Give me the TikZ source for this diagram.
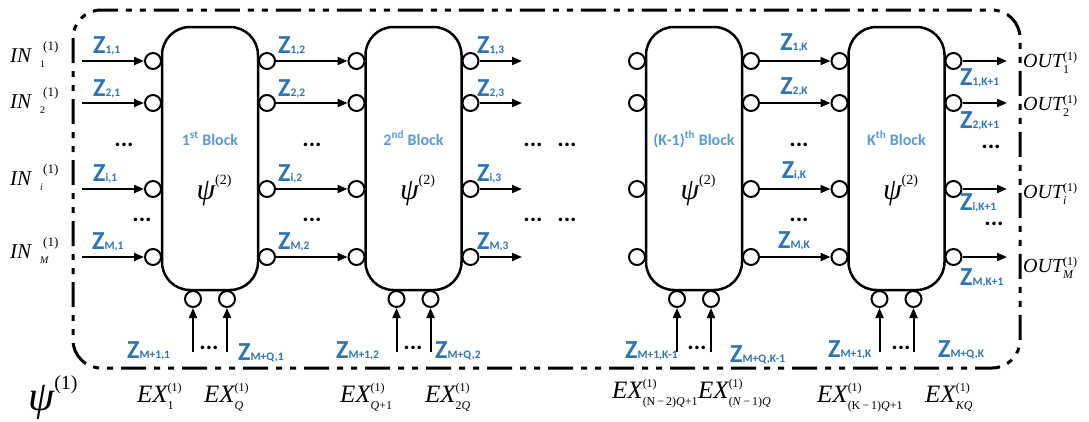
\documentclass[tikz,border=0pt]{standalone}
\usepackage{fontspec}
\usetikzlibrary{arrows.meta}
\newfontfamily\carl{Carlito}
\newfontfamily\tnr{Liberation Serif}
\definecolor{zblue}{HTML}{2E75B6}
\definecolor{lblue}{HTML}{5B9BD5}
\newcommand\zl[1]{{\carl\bfseries\fontsize{26}{26}\selectfont Z}{\carl\bfseries\fontsize{11.5}{11.5}\selectfont #1}}
\newcommand\inl[1]{{\tnr\fontsize{21}{21}\selectfont\itshape IN}\hspace{9pt}\rlap{\raisebox{-5pt}{\tnr\fontsize{10}{10}\selectfont #1}}\hspace{3pt}\raisebox{12pt}{\tnr\fontsize{13}{13}\selectfont (1)}}
\newcommand\outl[1]{{\tnr\fontsize{20}{20}\selectfont\itshape OUT}\rlap{\raisebox{-6pt}{\tnr\fontsize{12}{12}\selectfont #1}}\raisebox{7pt}{\tnr\fontsize{12}{12}\selectfont (1)}}
\newcommand\exl[1]{{\tnr\fontsize{25}{25}\selectfont\itshape EX}\rlap{\raisebox{-7pt}{\tnr\fontsize{12}{12}\selectfont #1}}\raisebox{11pt}{\tnr\fontsize{12}{12}\selectfont (1)}}
\newcommand\psitwo{{\tnr\itshape\fontsize{30}{30}\selectfont ψ}\raisebox{15pt}{\tnr\fontsize{14}{14}\selectfont (2)}}
\begin{document}
\begin{tikzpicture}[x=1pt,y=-1pt,
  blk/.style={draw,line width=2.5pt,rounded corners=28pt,minimum width=96pt,minimum height=263pt,inner sep=0pt,fill=white},
  port/.style={draw,circle,line width=2pt,minimum size=16pt,inner sep=0pt,fill=white},
  arr/.style={line width=2pt,-{Triangle[length=10pt,width=8pt]}},
  frame/.style={line width=3pt,rounded corners=28pt,dash pattern=on 25pt off 8pt on 6pt off 8pt on 6pt off 8pt},
  zlab/.style={text=zblue,inner sep=0pt},
  blab/.style={text=lblue,inner sep=0pt,anchor=base,font=\carl\bfseries\fontsize{16}{16}\selectfont},
  dots/.style={inner sep=0pt,font=\carl\bfseries\fontsize{24}{24}\selectfont},
  tlab/.style={inner sep=0pt,anchor=base west}
]
\useasboundingbox (0,0) rectangle (1089,421);
\draw[frame] (73,10) rectangle (1020,368);

% blocks and ports
\foreach \b/\cx in {1/210,2/413.5,3/694,4/896.5} {
  \node[blk] (B\b) at (\cx,158.5) {};
  \foreach \r/\ry in {1/61,2/103,3/189,4/257} {
    \node[port] (L\b\r) at (\cx-57,\ry) {};
    \node[port] (R\b\r) at (\cx+57,\ry) {};
  }
  \node[port] (Da\b) at (\cx-17,299) {};
  \node[port] (Db\b) at (\cx+17,299) {};
  \coordinate (Ea\b) at (\cx-17,352);
  \coordinate (Eb\b) at (\cx+17,352);
  \draw[arr] (Ea\b) -- (Da\b);
  \draw[arr] (Eb\b) -- (Db\b);
  \node[inner sep=0pt,anchor=base] (P\b) at (\cx+4,199) {\psitwo};
}
\node[blab] (T1) at (210,145) {1\textsuperscript{st} Block};
\node[blab] (T2) at (413.5,145) {2\textsuperscript{nd} Block};
\node[blab] (T3) at (694,145) {(K-1)\textsuperscript{th} Block};
\node[blab] (T4) at (896.5,145) {K\textsuperscript{th} Block};

% horizontal connectors
\foreach \r/\ry in {1/61,2/103,3/189,4/257} {
  \coordinate (I\r) at (82,\ry);
  \coordinate (F\r) at (522,\ry);
  \coordinate (O\r) at (1007,\ry);
  \draw[arr] (I\r) -- (L1\r);
  \draw[arr] (R1\r) -- (L2\r);
  \draw[arr] (R2\r) -- (F\r);
  \draw[arr] (R3\r) -- (L4\r);
  \draw[arr] (R4\r) -- (O\r);
}

% Z labels: inputs
\node[zlab,anchor=base west] (z11) at (93,53) {\zl{1,1}};
\node[zlab,anchor=base west] (z21) at (93,96) {\zl{2,1}};
\node[zlab,anchor=base west] (zi1) at (93,181) {\zl{i,1}};
\node[zlab,anchor=base west] (zM1) at (92,249) {\zl{M,1}};
% between block 1 and 2
\node[zlab,anchor=base west] (z12) at (278,53) {\zl{1,2}};
\node[zlab,anchor=base west] (z22) at (278,96) {\zl{2,2}};
\node[zlab,anchor=base west] (zi2) at (278,181) {\zl{i,2}};
\node[zlab,anchor=base west] (zM2) at (278,249) {\zl{M,2}};
% after block 2
\node[zlab,anchor=base west] (z13) at (477,53) {\zl{1,3}};
\node[zlab,anchor=base west] (z23) at (477,96) {\zl{2,3}};
\node[zlab,anchor=base west] (zi3) at (477,181) {\zl{i,3}};
\node[zlab,anchor=base west] (zM3) at (477,249) {\zl{M,3}};
% between K-1 and K
\node[zlab,anchor=base] (z1K) at (794,50) {\zl{1,K}};
\node[zlab,anchor=base] (z2K) at (794,94) {\zl{2,K}};
\node[zlab,anchor=base] (ziK) at (794,178) {\zl{i,K}};
\node[zlab,anchor=base] (zMK) at (794,248) {\zl{M,K}};
% outputs
\node[zlab,anchor=base west] (z1K1) at (960,85) {\zl{1,K+1}};
\node[zlab,anchor=base west] (z2K1) at (960,128) {\zl{2,K+1}};
\node[zlab,anchor=base west] (ziK1) at (960,210) {\zl{i,K+1}};
\node[zlab,anchor=base west] (zMK1) at (960,285) {\zl{M,K+1}};
% bottom
\node[zlab,anchor=base west] (zb1a) at (127,358) {\zl{M+1,1}};
\node[zlab,anchor=base west] (zb1b) at (238,360) {\zl{M+Q,1}};
\node[zlab,anchor=base west] (zb2a) at (336,358) {\zl{M+1,2}};
\node[zlab,anchor=base west] (zb2b) at (435,358) {\zl{M+Q,2}};
\node[zlab,anchor=base west] (zb3a) at (625,358) {\zl{M+1,K-1}};
\node[zlab,anchor=base west] (zb3b) at (730,362) {\zl{M+Q,K-1}};
\node[zlab,anchor=base west] (zb4a) at (828,357) {\zl{M+1,K}};
\node[zlab,anchor=base west] (zb4b) at (938,357) {\zl{M+Q,K}};

% dots
\node[dots] (d1) at (124,145) {...};
\node[dots] (d2) at (142,220) {...};
\node[dots] (d3) at (312,145) {...};
\node[dots] (d4) at (312,220) {...};
\node[dots] (d5) at (533,145) {...};
\node[dots] (d6) at (567,145) {...};
\node[dots] (d7) at (533,220) {...};
\node[dots] (d8) at (567,220) {...};
\node[dots] (d9) at (799,145) {...};
\node[dots] (d10) at (799,220) {...};
\node[dots] (d11) at (991,147) {...};
\node[dots] (d12) at (994,224) {...};
\node[dots] (d13) at (209,348) {...};
\node[dots] (d14) at (413,348) {...};
\node[dots] (d15) at (697,348) {...};
\node[dots] (d16) at (901,348) {...};

% IN labels
\node[tlab] (in1) at (10,62) {\inl{1}};
\node[tlab] (in2) at (10,108) {\inl{2}};
\node[tlab] (ini) at (10,185) {\inl{\textit{i}}};
\node[tlab] (inM) at (10,258) {\inl{\textit{M}}};
% OUT labels
\node[tlab] (out1) at (1023,67) {\outl{1}};
\node[tlab] (out2) at (1023,110) {\outl{2}};
\node[tlab] (outi) at (1023,198) {\outl{\textit{i}}};
\node[tlab] (outM) at (1023,272) {\outl{\textit{M}}};
% EX labels
\node[tlab] (ex1) at (137,402) {\exl{1}};
\node[tlab] (ex2) at (204,402) {\exl{\textit{Q}}};
\node[tlab] (ex3) at (340,402) {\exl{\textit{Q}+1}};
\node[tlab] (ex4) at (425,402) {\exl{2\textit{Q}}};
\node[tlab] (ex5) at (612,398) {\exl{(N\,−\,2)\textit{Q}+1}};
\node[tlab] (ex6) at (698,398) {\exl{(\textit{N}\,−\,1)\textit{Q}}};
\node[tlab] (ex7) at (817,402) {\exl{(K\,−\,1)\textit{Q}+1}};
\node[tlab] (ex8) at (925,402) {\exl{\textit{KQ}}};
% psi(1)
\node[tlab] (psi1) at (28,410) {{\tnr\itshape\fontsize{42}{42}\selectfont ψ}\raisebox{21pt}{\tnr\fontsize{20}{20}\selectfont (1)}};
\end{tikzpicture}
\end{document}
